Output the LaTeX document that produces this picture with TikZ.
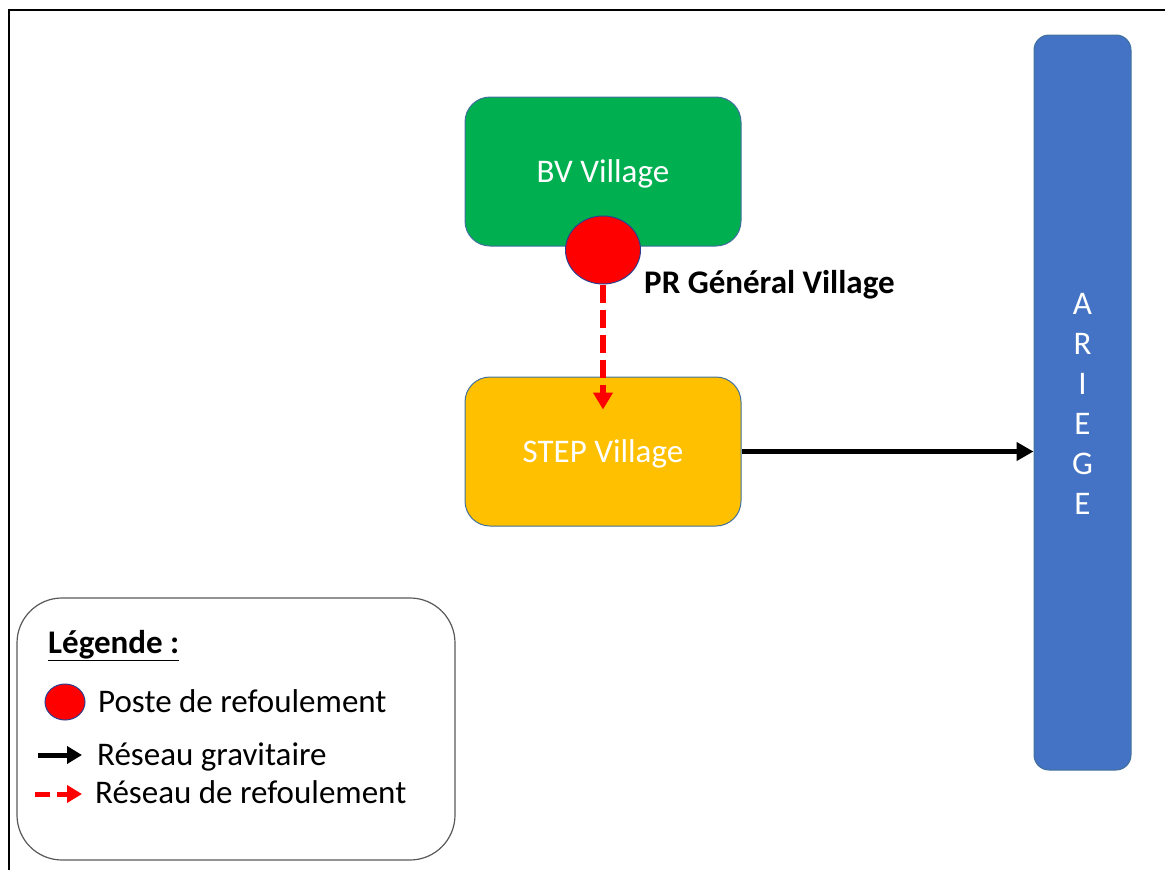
\documentclass[tikz,border=0pt]{standalone}
\usepackage{fontspec}
\setmainfont{Carlito}
\usetikzlibrary{arrows.meta,shapes.geometric}
\definecolor{bvgreen}{HTML}{00B050}
\definecolor{stepyellow}{HTML}{FFC000}
\definecolor{riverblue}{HTML}{4472C4}
\definecolor{boxedge}{HTML}{41719C}
\definecolor{pumpedge}{HTML}{2F3F8F}
\definecolor{legendedge}{HTML}{595959}

\begin{document}
\begin{tikzpicture}[x=1pt,y=-1pt,
		bigfont/.style={font=\fontsize{33}{40}\selectfont},
		boldfont/.style={font=\bfseries\fontsize{33}{40}\selectfont},
		zonebox/.style={draw=boxedge,line width=1pt,rounded corners=25pt,minimum width=276pt,minimum height=149pt,text depth=0pt,text=white,bigfont},
		pump/.style={ellipse,draw=pumpedge,line width=1pt,fill=red,inner sep=0pt},
		gravarrow/.style={line width=5pt,-{Triangle[length=17pt,width=18pt]}},
		refarrow/.style={red,line width=6pt,dash pattern=on 18pt off 7pt,-{Triangle[length=17pt,width=19pt]}},
		legtext/.style={anchor=base west,inner sep=0pt,bigfont}]
		\useasboundingbox (0,0) rectangle (1165,870);
		\draw[line width=2.5pt] (9,870) -- (9,10) -- (1165,10);

		\node[zonebox,fill=bvgreen] (bv) at (603,171.5) {BV Village};
		\node[zonebox,fill=stepyellow] (step) at (603,451.5) {STEP Village};
		\node[pump,minimum width=75pt,minimum height=68pt] (pr) at (603,250) {};
		\node[legtext,boldfont] (prlabel) at (644,293) {PR Général Village};

		\node[draw=boxedge,line width=1pt,fill=riverblue,rounded corners=15pt,minimum width=97pt,minimum height=735pt] (ariege) at (1082.5,402.5) {};
		\node[text=white,align=center,bigfont] (ariegetext) at ([yshift=-1pt]ariege.center) {A\\R\\I\\E\\G\\E};

		\draw[refarrow] (pr.south) -- ([yshift=-33pt]step.north);
		\draw[gravarrow] (step.east) -- (step.east -| ariege.west);

		% legende
		\node[draw=legendedge,line width=1.2pt,rounded corners=45pt,minimum width=438pt,minimum height=262pt] (legend) at (236,729) {};
		\node[legtext,boldfont] (legtitle) at (48,653) {\underline{Légende :}};
		\node[pump,minimum width=40pt,minimum height=36pt] (legpump) at (65,702) {};
		\node[legtext] (legpumptext) at (98,712) {Poste de refoulement};
		\coordinate (gravstart) at (38,755);
		\coordinate (gravend) at (82,755);
		\draw[gravarrow,-{Triangle[length=15pt,width=17pt]}] (gravstart) -- (gravend);
		\node[legtext] (gravtext) at (97,765) {Réseau gravitaire};
		\coordinate (refstart) at (35,794);
		\coordinate (refend) at (82,794);
		\draw[refarrow,line width=5pt,dash pattern=on 15pt off 7pt,-{Triangle[length=15pt,width=17pt]}] (refstart) -- (refend);
		\node[legtext] (reftext) at (95,803) {Réseau de refoulement};
\end{tikzpicture}
\end{document}
